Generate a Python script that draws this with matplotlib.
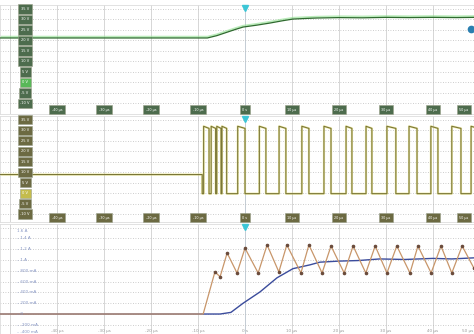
import matplotlib.pyplot as plt
import matplotlib.transforms as mtransforms

# time divisions (µs)
t_divs = [-50, -40, -30, -20, -10, 0, 10, 20, 30, 40, 50]
t_labels = ["-50 µs", "-40 µs", "-30 µs", "-20 µs", "-10 µs", "0 s",
            "10 µs", "20 µs", "30 µs", "40 µs", "50 µs"]

# channel 1 - output voltage (V)
ch1_t = [-52.1, -8.0, -6.0, -4.0, -2.0, -0.4, 2.5, 5.3, 8.0, 10.2, 13.0,
         15.3, 20.0, 25.0, 30.0, 35.0, 40.0, 45.0, 48.7]
ch1_v = [21.2, 21.2, 22.3, 23.8, 25.3, 26.4, 27.3, 28.3, 29.4, 30.2, 30.5,
         30.7, 30.9, 30.8, 31.0, 30.9, 31.0, 30.9, 31.0]
ch1_ticks = [35, 30, 25, 20, 15, 10, 5, 0, -5, -10]
ch1_labels = ["35 V", "30 V", "25 V", "20 V", "15 V", "10 V", "5 V", "0 V", "-5 V", "-10 V"]

# channel 2 - switch node (V)
sw_idle = 8.8
sw_high = 31.4
sw_low = -0.3
sw_start = -9.1
sw_rise = [-8.8, -7.2, -6.0, -4.9, -1.55, 3.05, 7.25, 12.1, 16.8, 21.5,
           25.75, 30.2, 34.9, 39.55, 44.0, 48.1]
sw_fall = [-7.65, -6.25, -5.1, -3.9, 0.0, 4.45, 8.7, 13.6, 18.3, 22.75,
           27.0, 32.1, 36.6, 41.05, 45.95]
ch2_ticks = [35, 30, 25, 20, 15, 10, 5, 0, -5, -10]
ch2_labels = ["35 V", "30 V", "25 V", "20 V", "15 V", "10 V", "5 V", "0 V", "-5 V", "-10 V"]

# channel 3 - inductor current and averaged current (A)
il_t = [-52.1, -8.9, -6.4, -5.3, -3.8, -1.7, 0.0, 2.8, 4.7, 7.2, 8.9, 11.9,
        13.6, 16.4, 18.3, 21.1, 23.0, 25.7, 27.7, 30.2, 32.3, 35.1, 36.8,
        39.6, 41.7, 44.0, 46.2, 48.7]
il_a = [0.0, 0.0, 0.78, 0.69, 1.13, 0.76, 1.22, 0.76, 1.28, 0.78, 1.28, 0.76,
        1.28, 0.76, 1.26, 0.76, 1.26, 0.76, 1.26, 0.76, 1.26, 0.76, 1.26,
        0.76, 1.26, 0.76, 1.26, 0.85]
io_t = [-52.1, -5.3, -3.0, -0.4, 3.2, 6.8, 10.2, 13.8, 15.9, 20.0, 24.0,
        28.7, 34.0, 40.0, 44.0, 48.7]
io_a = [0.0, 0.0, 0.03, 0.2, 0.41, 0.67, 0.84, 0.91, 0.96, 0.98, 0.99,
        1.02, 1.01, 1.03, 1.02, 1.04]
ch3_ticks = [1.6, 1.4, 1.2, 1.0, 0.8, 0.6, 0.4, 0.2, 0.0, -0.2, -0.4]
ch3_labels = ["1.6 A", "1.4 A", "1.2 A", "1 A", "800 mA", "600 mA",
              "400 mA", "200 mA", "0", "-200 mA", "-400 mA"]

W, H = 474, 334
fig = plt.figure(figsize=(W / 100, H / 100), dpi=100)
fig.patch.set_facecolor("white")


def panel(top, bottom):
    return fig.add_axes([0, 1 - bottom / H, 1, (bottom - top) / H])


def grid(ax, yticks):
    for t in t_divs:
        ax.axvline(t, color="#c4ccd4" if t == 0 else "#d6d6d6", lw=0.7, zorder=0)
    for y in yticks:
        ax.axhline(y, color="#bdbdbd", lw=0.6, ls=(0, (1, 2)), zorder=0)
    ax.set_xticks([])
    ax.set_yticks([])
    for s in ax.spines.values():
        s.set_color("#dddddd")
        s.set_linewidth(0.6)
    trig = mtransforms.blended_transform_factory(ax.transData, ax.transAxes)
    ax.plot([0], [0.975], marker="v", ms=5, color="#3cc6d6", transform=trig,
            clip_on=False, zorder=5)


def box_labels(ax, ticks, labels, face, ground_face):
    tr = mtransforms.blended_transform_factory(ax.transAxes, ax.transData)
    lo, hi = ax.get_ylim()
    for y, lab in zip(ticks, labels):
        if y < lo or y > hi:
            continue
        fc = ground_face if y == 0 else face
        ax.text(0.053, y, lab, transform=tr, fontsize=2.6, color="white",
                ha="center", va="center", zorder=6,
                bbox=dict(boxstyle="square,pad=0.7", fc=fc, ec="#9aa08a", lw=0.4))
    # time boxes along the bottom
    trb = mtransforms.blended_transform_factory(ax.transData, ax.transAxes)
    for t, lab in zip(t_divs[1:], t_labels[1:]):
        ax.text(min(t, 46.6), 0.04, lab, transform=trb, fontsize=2.4, color="white",
                ha="center", va="center", zorder=6,
                bbox=dict(boxstyle="square,pad=0.8", fc=face, ec="#9aa08a", lw=0.4))


xlim = (-245 / 4.7, 229 / 4.7)

# ---- panel 1
ax1 = panel(5, 114)
ax1.set_xlim(*xlim)
ax1.set_ylim(-15, 36.9)
grid(ax1, ch1_ticks)
ax1.plot(ch1_t, [v + 0.6 for v in ch1_v], color="#8fe08f", lw=1.4, alpha=0.6, zorder=2)
ax1.plot(ch1_t, ch1_v, color="#2f6a2f", lw=0.9, zorder=3)
box_labels(ax1, ch1_ticks, ch1_labels, "#4d6c4d", "#58b858")
tr1 = mtransforms.blended_transform_factory(ax1.transAxes, ax1.transData)
ax1.plot([0.993], [25.5], marker="o", ms=4.5, color="#2a7fb0", transform=tr1,
         clip_on=False, zorder=6)

# ---- panel 2
sw_t = [xlim[0], sw_start, sw_start]
sw_v = [sw_idle, sw_idle, sw_low]
edges = sorted([(t, 1) for t in sw_rise] + [(t, 0) for t in sw_fall])
for t, up in edges:
    if up:
        sw_t += [t, t]
        sw_v += [sw_low, sw_high + 0.4]
    else:
        sw_t += [t, t]
        sw_v += [sw_high - 0.6, sw_low]
sw_t.append(xlim[1])
sw_v.append(sw_high)

ax2 = panel(116, 222)
ax2.set_xlim(*xlim)
ax2.set_ylim(-13.8, 36.7)
grid(ax2, ch2_ticks)
ax2.plot(sw_t, sw_v, color="#e2dc6a", lw=1.6, alpha=0.55, zorder=2)
ax2.plot(sw_t, sw_v, color="#7a7636", lw=0.8, zorder=3)
box_labels(ax2, ch2_ticks, ch2_labels, "#6c6a42", "#c4bc4c")

# ---- panel 3
ax3 = panel(224, 334)
ax3.set_xlim(*xlim)
ax3.set_ylim(-0.37, 1.667)
grid(ax3, ch3_ticks)
ax3.plot(io_t, io_a, color="#3b4c9c", lw=1.0, zorder=3)
ax3.plot(il_t, il_a, color="#c8966a", lw=0.9, zorder=4)
ax3.plot(il_t[2:], il_a[2:], ls="none", marker="o", ms=1.6, color="#6b4c3c", zorder=5)
tr3 = mtransforms.blended_transform_factory(ax3.transAxes, ax3.transData)
for y, lab in zip(ch3_ticks, ch3_labels):
    txt = lab if y == ch3_ticks[0] else "– " + lab
    ax3.text(0.035, min(max(y, -0.33), 1.53), txt, transform=tr3,
             fontsize=3, color="#8595c4", ha="left", va="center", zorder=6)
trb3 = mtransforms.blended_transform_factory(ax3.transData, ax3.transAxes)
for t, lab in zip(t_divs[1:], t_labels[1:]):
    ax3.text(min(t, 47.4), 0.03, lab, transform=trb3, fontsize=3,
             color="#9a9a9a", ha="center", va="center", zorder=6)

fig.savefig("out.png", dpi=100, facecolor="white")
